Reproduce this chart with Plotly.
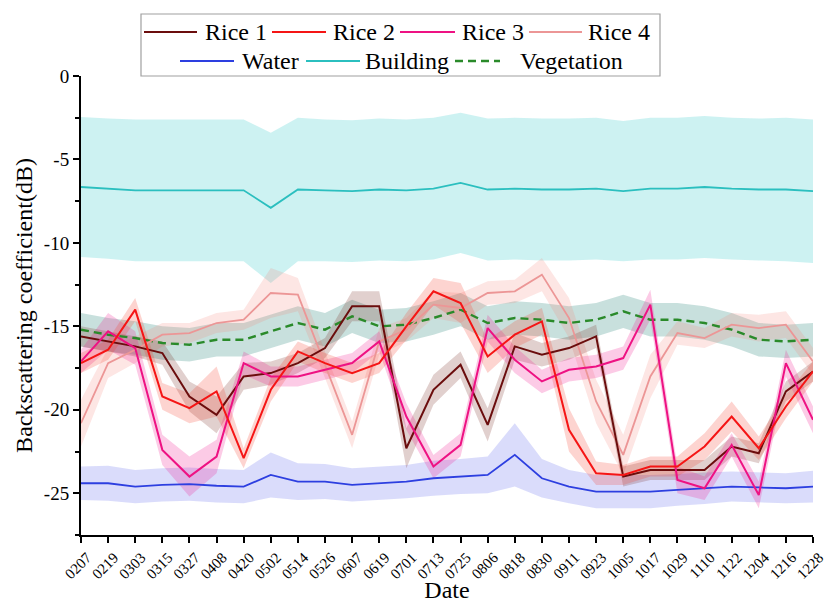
import plotly.graph_objects as go

# Acquisition dates (MMDD)
dates = ["0207", "0219", "0303", "0315", "0327", "0408", "0420", "0502", "0514", "0526",
         "0607", "0619", "0701", "0713", "0725", "0806", "0818", "0830", "0911", "0923",
         "1005", "1017", "1029", "1110", "1122", "1204", "1216", "1228"]

# Mean backscattering coefficient (dB) per class
rice1 = [-15.6, -15.9, -16.2, -16.6, -19.2, -20.3, -18.0, -17.8, -17.2, -16.3,
         -13.8, -13.8, -22.3, -18.8, -17.3, -20.9, -16.2, -16.7, -16.3, -15.6,
         -24.0, -23.6, -23.6, -23.6, -22.2, -22.6, -18.9, -17.7]
rice2 = [-17.2, -16.4, -14.0, -19.2, -19.9, -18.9, -22.9, -18.8, -16.5, -17.2,
         -17.8, -17.2, -15.0, -12.9, -13.6, -16.8, -15.5, -14.7, -21.2, -23.8,
         -23.9, -23.4, -23.4, -22.2, -20.4, -22.3, -19.8, -17.7]
rice3 = [-17.1, -15.3, -16.3, -22.4, -24.0, -22.8, -17.2, -18.0, -18.0, -17.6,
         -17.2, -15.9, -20.4, -23.4, -22.1, -15.1, -17.0, -18.3, -17.6, -17.4,
         -16.9, -13.7, -24.2, -24.7, -22.1, -25.1, -17.2, -20.6]
rice4 = [-20.8, -17.2, -16.4, -15.5, -15.4, -14.8, -14.6, -13.0, -13.1, -17.3,
         -21.5, -15.9, -15.2, -13.7, -13.9, -13.0, -12.9, -11.9, -14.5, -19.5,
         -22.7, -18.0, -15.4, -15.7, -14.9, -15.1, -14.9, -17.1]
water = [-24.4, -24.4, -24.6, -24.5, -24.45, -24.55, -24.6, -23.9, -24.3, -24.3,
         -24.5, -24.4, -24.3, -24.1, -24.0, -23.9, -22.7, -24.1, -24.6, -24.9,
         -24.9, -24.9, -24.8, -24.7, -24.6, -24.65, -24.7, -24.6]
building = [-6.65, -6.75, -6.85, -6.85, -6.85, -6.85, -6.85, -7.9, -6.8, -6.85,
            -6.9, -6.8, -6.85, -6.75, -6.4, -6.8, -6.75, -6.8, -6.8, -6.75,
            -6.9, -6.75, -6.75, -6.65, -6.75, -6.8, -6.8, -6.9]
vegetation = [-15.2, -15.5, -15.7, -16.0, -16.1, -15.8, -15.8, -15.3, -14.8, -15.2,
              -14.4, -15.0, -14.9, -14.5, -14.0, -14.8, -14.5, -14.6, -14.8, -14.6,
              -14.1, -14.6, -14.6, -14.8, -15.2, -15.8, -15.9, -15.8]

# Standard deviation (dB) per class, drawn as shaded bands
rice1_sd = [0.6, 0.6, 0.6, 0.7, 0.9, 1.1, 0.8, 0.7, 0.6, 0.6,
            0.9, 0.9, 1.2, 0.9, 0.8, 1.0, 0.8, 0.7, 0.7, 0.7,
            0.6, 0.6, 0.6, 0.6, 0.6, 0.6, 0.6, 0.6]
rice2_sd = [0.6, 0.6, 0.7, 0.8, 0.9, 1.5, 0.6, 0.7, 0.6, 0.6,
            0.6, 0.6, 0.8, 0.8, 1.2, 1.0, 0.8, 0.8, 1.3, 0.7,
            0.6, 0.6, 0.6, 0.8, 0.9, 0.7, 0.7, 0.6]
rice3_sd = [0.7, 1.1, 1.0, 0.9, 1.2, 1.0, 0.7, 0.6, 0.6, 0.6,
            0.6, 0.6, 0.8, 0.7, 0.7, 0.8, 0.8, 0.7, 0.7, 0.7,
            0.7, 0.9, 0.8, 0.7, 0.7, 0.8, 0.8, 0.8]
rice4_sd = [1.4, 0.9, 0.8, 0.7, 0.6, 0.6, 0.6, 1.5, 1.0, 0.8,
            0.8, 0.8, 0.7, 0.8, 0.9, 0.7, 0.7, 1.0, 1.2, 1.3,
            1.2, 1.3, 0.7, 0.6, 0.7, 0.8, 0.8, 0.8]
water_sd = [1.0, 1.05, 1.0, 1.0, 1.0, 1.0, 1.0, 1.35, 1.1, 1.05,
            1.0, 1.0, 1.0, 1.05, 1.05, 1.1, 1.9, 1.15, 1.0, 1.0,
            1.0, 1.0, 0.95, 0.95, 0.9, 0.9, 0.9, 0.95]
building_sd = [4.2, 4.2, 4.25, 4.25, 4.25, 4.25, 4.25, 4.5, 4.3, 4.25,
               4.25, 4.25, 4.25, 4.25, 4.2, 4.25, 4.25, 4.25, 4.25, 4.25,
               4.2, 4.25, 4.25, 4.25, 4.25, 4.25, 4.3, 4.3]
vegetation_sd = [1.0, 1.0, 1.0, 1.0, 1.0, 1.0, 1.0, 1.0, 1.0, 1.0,
                 1.0, 1.0, 1.0, 1.0, 1.0, 1.0, 1.0, 1.0, 1.0, 1.0,
                 1.0, 1.0, 1.0, 1.0, 1.0, 1.0, 1.0, 1.0]

y_tick_values = [0, -5, -10, -15, -20, -25]
y_tick_labels = ["0", "-5", "-10", "-15", "-20", "-25"]

FONT = "Liberation Serif, Times New Roman, serif"

# name, mean, sd, line colour, band colour, dash, width
series = [
    ("Building", building, building_sd, "#2BBFBF", "rgba(48,200,200,0.24)", "solid", 1.8),
    ("Water", water, water_sd, "#2D3FE0", "rgba(60,70,235,0.19)", "solid", 1.8),
    ("Vegetation", vegetation, vegetation_sd, "#2A8A2A", "rgba(50,140,130,0.27)", "8px,5px", 2.4),
    ("Rice 4", rice4, rice4_sd, "#EC9696", "rgba(245,130,120,0.20)", "solid", 1.8),
    ("Rice 1", rice1, rice1_sd, "#6B0D0D", "rgba(120,40,30,0.22)", "solid", 2.0),
    ("Rice 3", rice3, rice3_sd, "#EE1283", "rgba(240,20,140,0.22)", "solid", 2.0),
    ("Rice 2", rice2, rice2_sd, "#F51515", "rgba(245,60,40,0.22)", "solid", 2.0),
]

fig = go.Figure()

# shaded +/- sd bands
for name, mean, sd, lc, fc, dash, w in series:
    upper = [m + s for m, s in zip(mean, sd)]
    lower = [m - s for m, s in zip(mean, sd)]
    fig.add_trace(go.Scatter(x=dates, y=upper, mode="lines", line=dict(width=0),
                             showlegend=False, hoverinfo="skip"))
    fig.add_trace(go.Scatter(x=dates, y=lower, mode="lines", line=dict(width=0),
                             fill="tonexty", fillcolor=fc, showlegend=False,
                             hoverinfo="skip"))

# mean lines
for name, mean, sd, lc, fc, dash, w in series:
    fig.add_trace(go.Scatter(x=dates, y=mean, mode="lines", name=name,
                             line=dict(color=lc, width=w, dash=dash),
                             showlegend=False))

# plot area in pixels
L, R, T, B = 81, 813, 76, 535
W_PX, H_PX = 829, 603


def px_x(px):
    return (px - L) / (R - L)


def px_y(py):
    return (B - py) / (B - T)


style = {name: (lc, dash) for name, mean, sd, lc, fc, dash, w in series}

# legend entries: (label, line start px, line end px, text start px, row y px)
legend_entries = [
    ("Rice 1", 144, 197, 203, 32),
    ("Rice 2", 272, 326, 331, 32),
    ("Rice 3", 400, 455, 460, 32),
    ("Rice 4", 529, 582, 586, 32),
    ("Water", 180, 234, 240, 61),
    ("Building", 306, 360, 363, 61),
    ("Vegetation", 455, 500, 518, 61),
]

shapes = [dict(type="rect", xref="paper", yref="paper",
               x0=px_x(141), x1=px_x(660), y0=px_y(76), y1=px_y(14),
               line=dict(color="#A0A0A0", width=1.2), fillcolor="white", layer="above")]
annotations = []
for label, x0, x1, tx, ry in legend_entries:
    lc, dash = style[label]
    shapes.append(dict(type="line", xref="paper", yref="paper",
                       x0=px_x(x0), x1=px_x(x1), y0=px_y(ry), y1=px_y(ry),
                       line=dict(color=lc, width=2.2 if dash == "solid" else 2.6,
                                 dash=dash), layer="above"))
    annotations.append(dict(text=label, xref="paper", yref="paper",
                            x=px_x(tx), y=px_y(ry), xanchor="left", yanchor="middle",
                            showarrow=False, font=dict(family=FONT, size=24, color="black")))

fig.update_layout(
    width=W_PX, height=H_PX,
    margin=dict(l=L, r=W_PX - R, t=T, b=H_PX - B, pad=0, autoexpand=False),
    paper_bgcolor="white", plot_bgcolor="white",
    font=dict(family=FONT, color="black"),
    shapes=shapes, annotations=annotations,
    showlegend=False,
)

fig.update_xaxes(
    type="category", range=[0, len(dates) - 1], automargin=False,
    showgrid=False, zeroline=False,
    showline=True, linecolor="black", linewidth=2,
    ticks="outside", ticklen=6, tickwidth=1.5, tickcolor="black",
    tickangle=-45, ticklabelshift=6,
    tickfont=dict(family=FONT, size=15, color="black"),
    title=dict(text="Date", font=dict(family=FONT, size=24, color="black"), standoff=8),
)
fig.update_yaxes(
    range=[-27.5, 0], automargin=False,
    showgrid=False, zeroline=False,
    showline=True, linecolor="black", linewidth=2,
    ticks="outside", ticklen=6, tickwidth=1.5, tickcolor="black",
    tickvals=y_tick_values, ticktext=y_tick_labels,
    tickfont=dict(family=FONT, size=19, color="black"),
    minor=dict(dtick=2.5, tick0=0, ticks="outside", ticklen=4, tickwidth=1.5,
               tickcolor="black", showgrid=False),
    title=dict(text="Backscattering coefficient(dB)",
               font=dict(family=FONT, size=24, color="black"), standoff=4),
)

fig.write_html("out.html")
